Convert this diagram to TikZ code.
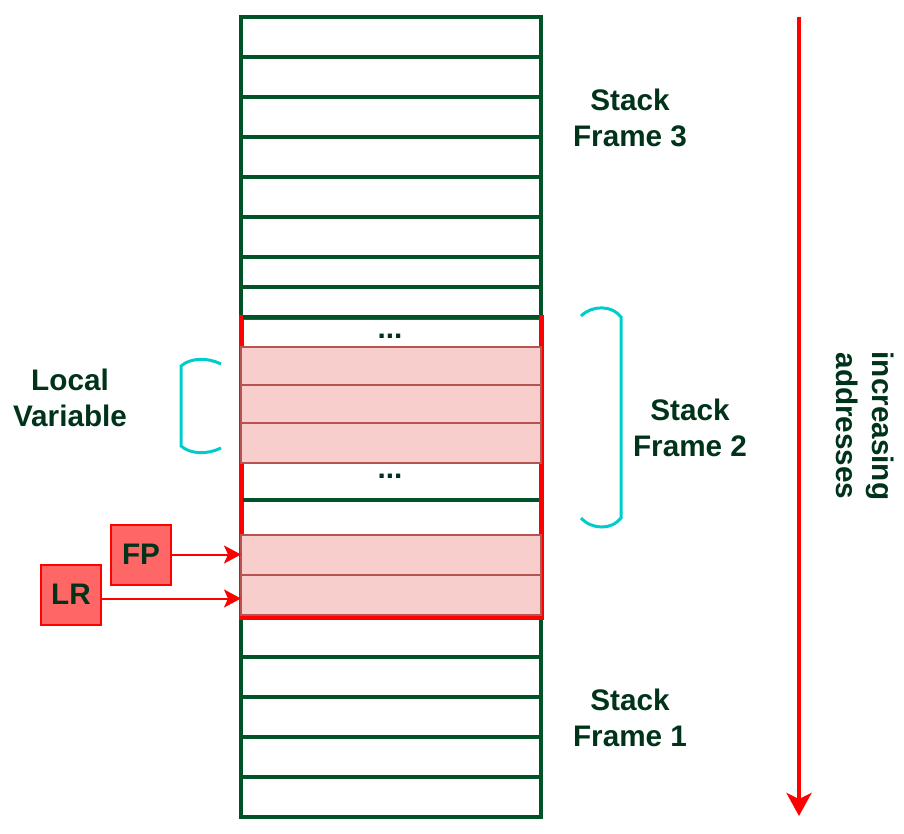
\documentclass[tikz,border=0pt]{standalone}
\usepackage{fontspec}
\setmainfont{Liberation Sans}
\usetikzlibrary{arrows.meta}
\definecolor{stackgreen}{HTML}{005229}
\definecolor{txtgreen}{HTML}{00331A}
\definecolor{pinkfill}{HTML}{F8CECC}
\definecolor{pinkline}{HTML}{B85450}
\definecolor{regred}{HTML}{FF6666}
\definecolor{bracecyan}{HTML}{00CCCC}
\begin{document}
\begin{tikzpicture}[x=1pt,y=-1pt,
  stackline/.style={draw=stackgreen, line width=3.5pt},
  localcell/.style={draw=pinkline, fill=pinkfill, line width=1.5pt, minimum width=300pt, inner sep=0pt, outer sep=0pt},
  lbl/.style={text=txtgreen, font=\fontsize{29.7}{35.8}\selectfont\bfseries, align=center, inner sep=0pt},
  reg/.style={draw=red, fill=regred, line width=2pt, minimum width=60pt, minimum height=60pt, inner sep=0pt, outer sep=0pt, text=txtgreen, font=\fontsize{29.7}{35}\selectfont\bfseries},
  ptr/.style={draw=red, line width=2pt, -{Stealth[length=17pt,width=18pt,inset=4pt]}},
  bracket/.style={draw=bracecyan, line width=3pt},
]
\useasboundingbox (0,0) rectangle (904,834);
% stack
\draw[stackline] (241,17) rectangle (541,817);
\foreach \y in {57,97,137,177,217,257,287,657,697,737,777}
  \draw[stackline] (241,\y) -- (541,\y);
% stack frame 2 box
\draw[red, line width=5pt] (241,317) rectangle (541,617);
\foreach \y in {317,500}
  \draw[stackline] (243,\y) -- (539,\y);
% local variable cells
\node[localcell, minimum height=38pt] (lv1) at (391,366) {};
\node[localcell, minimum height=38pt] (lv2) at (391,404) {};
\node[localcell, minimum height=40pt] (lv3) at (391,443) {};
\node[localcell, minimum height=40pt] (fpcell) at (391,555) {};
\node[localcell, minimum height=40pt] (lrcell) at (391,595) {};
\node[lbl, anchor=base] (dots1) at (390,338) {...};
\node[lbl, anchor=base] (dots2) at (390,478) {...};
% registers
\node[reg] (fp) at (141,554.5) {FP};
\node[reg] (lr) at (71,594.5) {LR};
\draw[ptr] (fp.east) -- (fp.east -| fpcell.west);
\draw[ptr] ([yshift=-4pt]lr.east) -- ([yshift=-4pt]lr.east -| lrcell.west);
% labels
\node[lbl] (sf3) at (630,117.6) {Stack\\Frame 3};
\node[lbl] (sf2) at (690,427.6) {Stack\\Frame 2};
\node[lbl] (sf1) at (630,717.6) {Stack\\Frame 1};
\node[lbl] (lvar) at (70,397.6) {Local\\Variable};
\node[lbl, rotate=-90] (addr) at (865,426) {increasing\\addresses};
% brackets
\draw[bracket] (221,364) .. controls (207,357) and (190,358) .. (181,366) -- (181,446) .. controls (190,454) and (207,455) .. (221,448);
\draw[bracket] (581,316) .. controls (592,305) and (612,305) .. (621,317) -- (621,518) .. controls (612,530) and (592,530) .. (581,518);
% address arrow
\coordinate (atop) at (799,17);
\coordinate (abot) at (799,816);
\draw[red, line width=3.5pt, -{Stealth[length=23pt,width=25pt,inset=6pt]}] (atop) -- (abot);
\end{tikzpicture}
\end{document}
